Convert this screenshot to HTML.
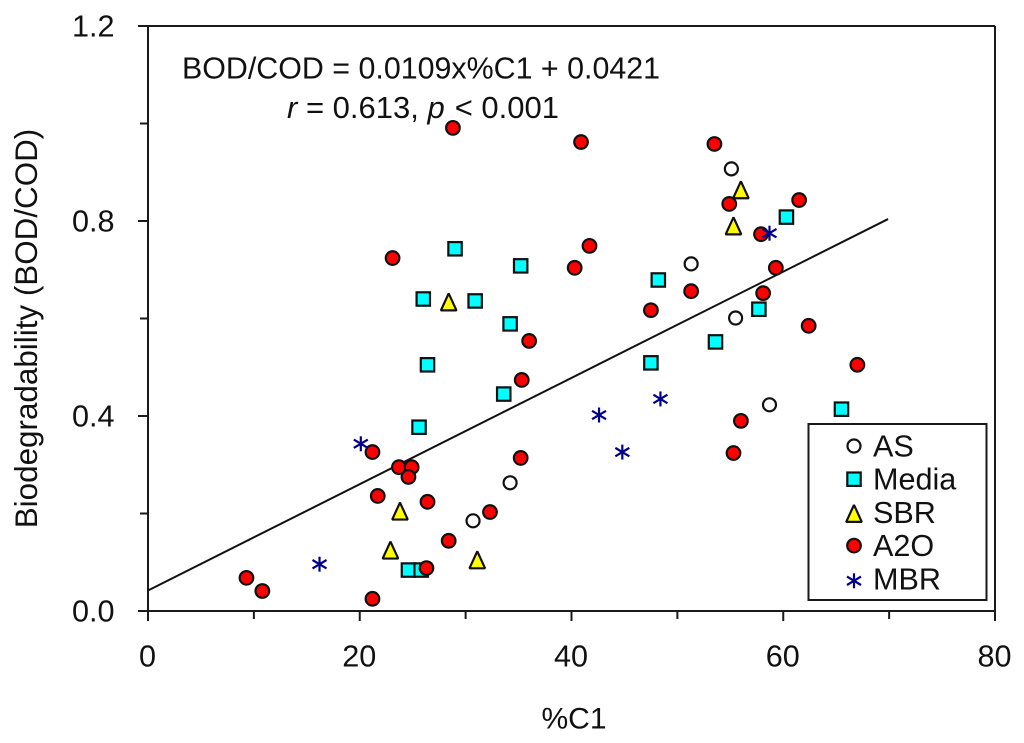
<!DOCTYPE html>
<html lang="en">
<head>
<meta charset="utf-8">
<title>Biodegradability vs %C1</title>
<style>
html,body{margin:0;padding:0;background:#fff;}
svg{display:block;}
text{font-family:"Liberation Sans",Arial,sans-serif;font-size:30.6px;fill:#111;}
</style>
</head>
<body>
<svg id="chart" xmlns="http://www.w3.org/2000/svg" width="1024" height="743" viewBox="0 0 1024 743">
  <rect width="1024" height="743" fill="#fff"/>
  <g id="axes"></g>
  <g id="fit"></g>
  <g id="marks"></g>
  <text x="182" y="78.5" style="font-size:30.4px">BOD/COD = 0.0109x%C1 + 0.0421</text>
  <text x="287" y="118" style="font-size:31px"><tspan font-style="italic">r</tspan> = 0.613, <tspan font-style="italic">p</tspan><tspan dx="10">&lt; 0.001</tspan></text>
  <text x="574" y="728.5" text-anchor="middle" style="font-size:30px">%C1</text>
  <text transform="translate(37,328.5) rotate(-90)" text-anchor="middle" style="font-size:31.4px">Biodegradability (BOD/COD)</text>
  <g id="legend"></g>
</svg>
<script>
const xMajorTicks = [0, 20, 40, 60, 80];
const xMinorTicks = [10, 30, 50, 70];
const yMajorTicks = [0, 0.4, 0.8, 1.2];
const yMinorTicks = [0.2, 0.6, 1.0];
const xTickLabels = ['0', '20', '40', '60', '80'];
const yTickLabels = ['0.0', '0.4', '0.8', '1.2'];

const fitSlope = 0.0109;
const fitIntercept = 0.0421;
const fitRange = [0, 69.9];

const seriesNames = ['AS', 'Media', 'SBR', 'A2O', 'MBR'];

const asX = [55.1, 51.3, 55.5, 58.7, 34.2, 30.7];
const asY = [0.907, 0.712, 0.601, 0.423, 0.263, 0.185];

const mediaX = [29.0, 35.2, 26.0, 30.9, 34.2, 26.4, 33.6, 25.6, 24.6, 25.8, 48.2, 60.3, 57.7, 53.6, 47.5, 65.5];
const mediaY = [0.743, 0.708, 0.640, 0.636, 0.589, 0.505, 0.445, 0.377, 0.084, 0.084, 0.679, 0.808, 0.619, 0.552, 0.509, 0.414];

const sbrX = [56.0, 55.3, 28.4, 23.8, 22.9, 31.1];
const sbrY = [0.862, 0.788, 0.632, 0.203, 0.123, 0.103];

const a2oX = [28.8, 40.9, 53.5, 54.9, 61.5, 57.9, 41.7, 23.1, 40.3, 59.3, 51.3, 58.1, 47.5, 62.4, 36.0, 67.0, 35.3, 56.0, 55.3, 35.2, 21.2, 23.7, 24.9, 24.6, 21.7, 26.4, 32.3, 28.4, 26.3, 9.3, 10.8, 21.2];
const a2oY = [0.991, 0.962, 0.958, 0.835, 0.843, 0.773, 0.749, 0.724, 0.704, 0.704, 0.656, 0.652, 0.617, 0.585, 0.554, 0.505, 0.474, 0.390, 0.324, 0.314, 0.326, 0.295, 0.295, 0.275, 0.236, 0.224, 0.203, 0.144, 0.088, 0.068, 0.041, 0.025];

const mbrX = [58.7, 20.1, 42.6, 48.4, 44.8, 16.2];
const mbrY = [0.775, 0.343, 0.402, 0.435, 0.326, 0.096];

const NS = 'http://www.w3.org/2000/svg';
const sx = v => 148 + v * (995 - 148) / 80;
const sy = v => 611 - v * (611 - 26) / 1.2;

function make(parent, tag, attrs) {
  const el = document.createElementNS(NS, tag);
  for (const k in attrs) el.setAttribute(k, attrs[k]);
  parent.appendChild(el);
  return el;
}

const axesG = document.getElementById('axes');
const stroke = { stroke: '#1a1a1a', 'stroke-width': 2, fill: 'none' };

const xAxisLine = make(axesG, 'line', Object.assign({ x1: 138, y1: sy(0), x2: 995, y2: sy(0) }, stroke));


const yAxisLine = make(axesG, 'line', Object.assign({ x1: sx(0), y1: 26, x2: sx(0), y2: 621 }, stroke));


const topLine = make(axesG, 'line', Object.assign({ x1: 138, y1: 26, x2: 995, y2: 26 }, stroke));


const rightLine = make(axesG, 'line', Object.assign({ x1: 995, y1: 26, x2: 995, y2: 621 }, stroke));



xMajorTicks.forEach((v, i) => {
  const t = make(axesG, 'line', Object.assign({ x1: sx(v), y1: 611, x2: sx(v), y2: 621 }, stroke));
  
  
  const l = make(axesG, 'text', { x: sx(v) - 0.5, y: 666.5, 'text-anchor': 'middle' });
  l.textContent = xTickLabels[i];
  
  
});
xMinorTicks.forEach(v => {
  const t = make(axesG, 'line', Object.assign({ x1: sx(v), y1: 611, x2: sx(v), y2: 619 }, stroke));
  
  
});
yMajorTicks.forEach((v, i) => {
  const t = make(axesG, 'line', Object.assign({ x1: 138, y1: sy(v), x2: 148, y2: sy(v) }, stroke));
  
  
  const l = make(axesG, 'text', { x: 114.5, y: sy(v) + 10.5, 'text-anchor': 'end' });
  l.textContent = yTickLabels[i];
  
  
});
yMinorTicks.forEach(v => {
  const t = make(axesG, 'line', Object.assign({ x1: 140, y1: sy(v), x2: 148, y2: sy(v) }, stroke));
  
  
});

const fitLine = make(document.getElementById('fit'), 'line', {
  x1: sx(fitRange[0]),
  y1: sy(fitIntercept + fitSlope * fitRange[0]),
  x2: sx(fitRange[1]),
  y2: sy(fitIntercept + fitSlope * fitRange[1]),
  stroke: '#111',
  'stroke-width': 2
});



function marker(parent, kind, cx, cy) {
  const base = { stroke: '#111', 'stroke-width': 2.2 };
  if (kind === 'AS') {
    return make(parent, 'circle', Object.assign({ cx: cx, cy: cy, r: 6.5, fill: '#fff' }, base));
  }
  if (kind === 'Media') {
    return make(parent, 'rect', Object.assign({ x: cx - 6.7, y: cy - 6.7, width: 13.4, height: 13.4, fill: '#00ffff' }, base));
  }
  if (kind === 'SBR') {
    const pts = [[cx, cy - 9.5], [cx + 7.8, cy + 7.5], [cx - 7.8, cy + 7.5]].map(p => p.join(',')).join(' ');
    return make(parent, 'polygon', Object.assign({ points: pts, fill: '#ffff00', 'stroke-linejoin': 'bevel' }, base));
  }
  if (kind === 'A2O') {
    return make(parent, 'circle', Object.assign({ cx: cx, cy: cy, r: 6.8, fill: '#ff0000' }, base));
  }
  const g = make(parent, 'g', { stroke: '#00008b', 'stroke-width': 2.2 });
  make(g, 'line', { x1: cx, y1: cy - 7.5, x2: cx, y2: cy + 7.5 });
  make(g, 'line', { x1: cx - 7, y1: cy - 4.2, x2: cx + 7, y2: cy + 4.2 });
  make(g, 'line', { x1: cx - 7, y1: cy + 4.2, x2: cx + 7, y2: cy - 4.2 });
  return g;
}

function drawSeries(kind, xs, ys, label) {
  const parent = document.getElementById('marks');
  const g = make(parent, 'g', {});
  
  
  xs.forEach((x, i) => {
    const m = marker(g, kind, sx(x), sy(ys[i]));
    
    
  });
}
drawSeries('AS', asX, asY, 'as');
drawSeries('Media', mediaX, mediaY, 'media');
drawSeries('SBR', sbrX, sbrY, 'sbr');
drawSeries('A2O', a2oX, a2oY, 'a2o');
drawSeries('MBR', mbrX, mbrY, 'mbr');

const legendG = document.getElementById('legend');
const legendBox = make(legendG, 'rect', { x: 808.5, y: 424, width: 178, height: 176, fill: '#fff', stroke: '#1a1a1a', 'stroke-width': 2 });


seriesNames.forEach((name, i) => {
  const base = 456.5 + i * 33.2;
  const nudge = name === 'SBR' ? 2 : name === 'MBR' ? 2 : 0;
  const m = marker(legendG, name, 854, base - 10.5 + nudge);
  
  
  const t = make(legendG, 'text', { x: 873, y: base });
  t.textContent = name;
  
  
});
</script>
</body>
</html>
